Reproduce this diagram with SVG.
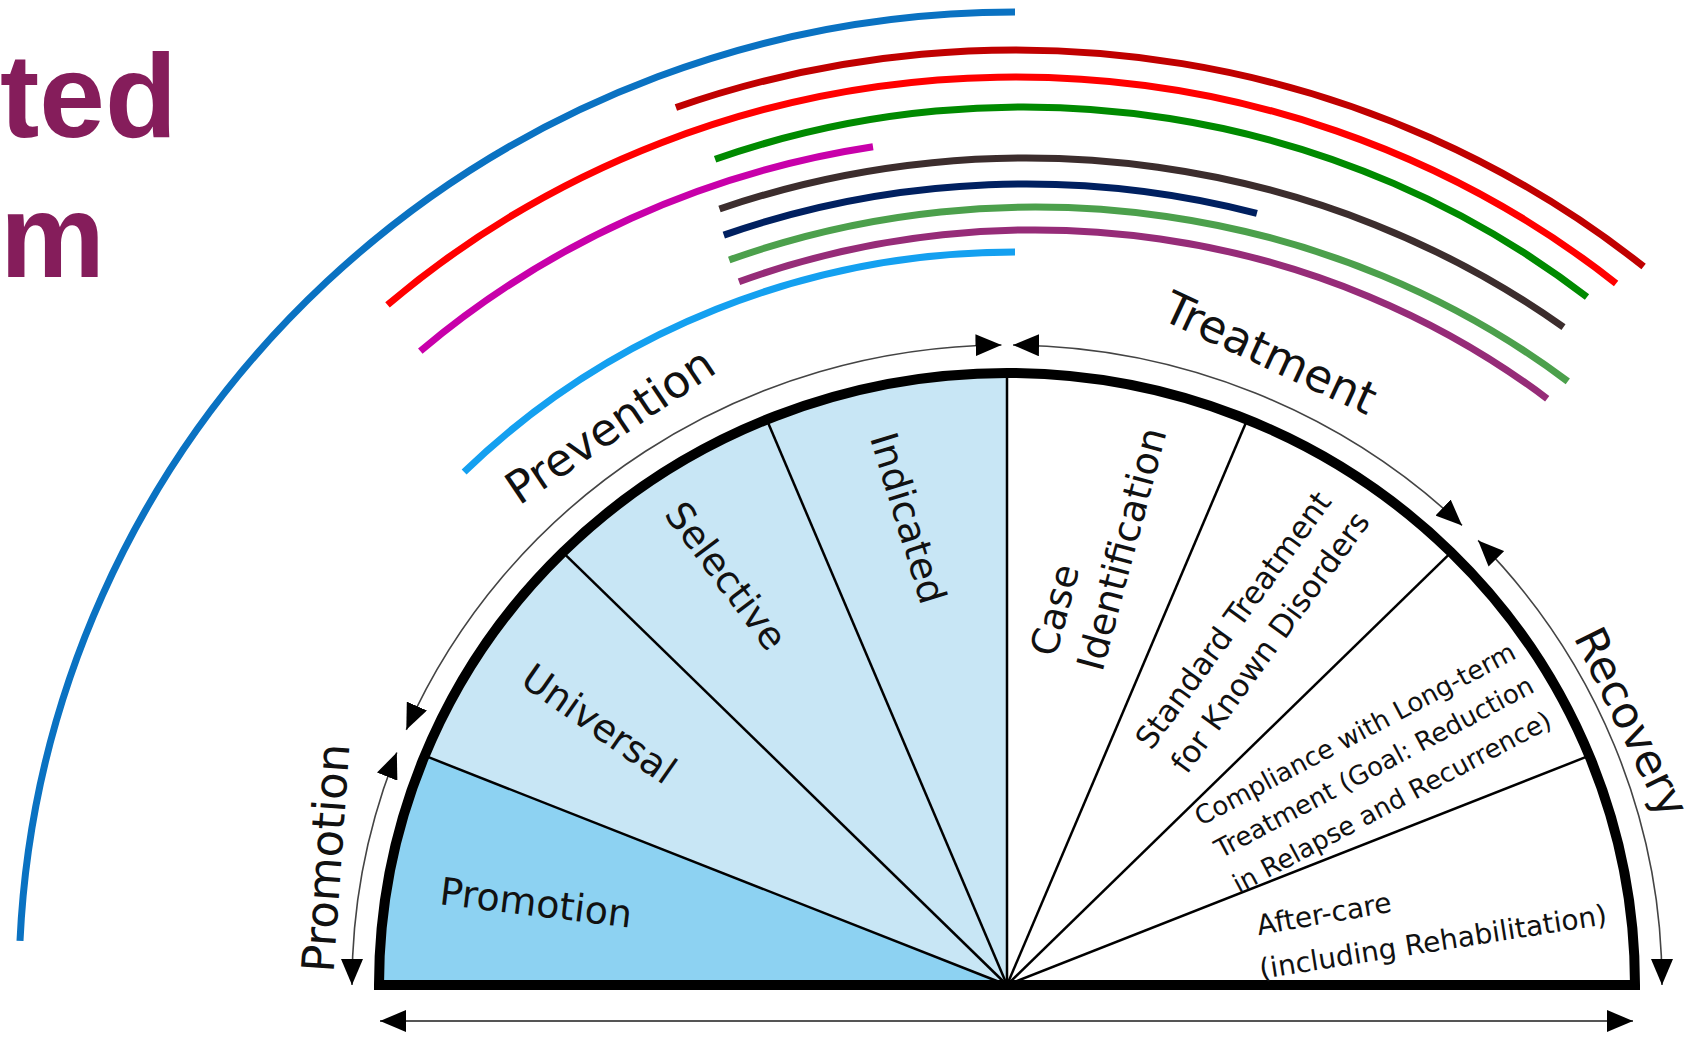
<svg xmlns="http://www.w3.org/2000/svg" width="1699" height="1037" viewBox="0 0 1699 1037">
<style>
.title{font-family:"Liberation Sans",Arial,sans-serif;font-weight:bold;font-size:118px;fill:#851d5b}
.band{fill:none;stroke-width:7;stroke-linecap:butt}
.thin{fill:none;stroke:#444;stroke-width:1.6}
.spoke{stroke:#000;stroke-width:2.5}
.lbl{font-family:"DejaVu Sans",Verdana,sans-serif;fill:#111;text-anchor:middle;dominant-baseline:central}
.outer{font-size:45px}
.inner{font-size:38px}
.mid{font-size:31px}
.small{font-size:26px}
.care{font-size:28px}
</style>
<defs>
<marker id="ah" viewBox="0 0 26 22" refX="26" refY="11" markerWidth="26" markerHeight="22" markerUnits="userSpaceOnUse" orient="auto-start-reverse">
<path d="M0,0 L26,11 L0,22 Z" fill="#000"/>
</marker>
</defs>
<rect width="1699" height="1037" fill="#fff"/>
<g id="title">
<text class="title" x="0" y="137">ted</text>
<text class="title" x="0" y="277">m</text>
</g>
<g id="bands">
<path class="band" stroke="#0a72c2" stroke-width="8" d="M20 940.9 A996 973 0 0 1 1015 12"/>
<path class="band" stroke="#c00000" d="M675.9 107.5 A982 935 0 0 1 1643.6 266.6"/>
<path class="band" stroke="#ff0000" d="M387.5 304.9 A947 908 0 0 1 1616.1 283.4"/>
<path class="band" stroke="#008a00" d="M715.1 159.3 A907 878 0 0 1 1587 297"/>
<path class="band" stroke="#c800aa" d="M420.3 351.1 A894 849 0 0 1 873 146.8"/>
<path class="band" stroke="#3c2d2d" d="M719.5 209 A887 827 0 0 1 1563.5 327.2"/>
<path class="band" stroke="#002060" d="M723.8 235.1 A860 801 0 0 1 1256.9 213.4"/>
<path class="band" stroke="#4ca04c" d="M729.2 260 A844 778 0 0 1 1567.8 381.4"/>
<path class="band" stroke="#962c78" d="M739 281.7 A813 755 0 0 1 1547.2 398.7"/>
<path class="band" stroke="#14a0f0" d="M464.1 472.1 A771 733 0 0 1 1015 252"/>
</g>
<g id="sectors">
<path id="promotion-sector" d="M1007 985 L379 985 A628 612 0 0 1 424.7 755.7 Z" fill="#8dd2f2"/>
<path id="prevention-sector" d="M1007 985 L424.7 755.7 A628 612 0 0 1 1007 373 Z" fill="#c8e6f5"/>
<line class="spoke" x1="1007" y1="985" x2="424.7" y2="755.7"/>
<line class="spoke" x1="1007" y1="985" x2="562.9" y2="552.3"/>
<line class="spoke" x1="1007" y1="985" x2="766.7" y2="419.6"/>
<line class="spoke" x1="1007" y1="985" x2="1007" y2="373"/>
<line class="spoke" x1="1007" y1="985" x2="1247.3" y2="419.6"/>
<line class="spoke" x1="1007" y1="985" x2="1451.1" y2="552.3"/>
<line class="spoke" x1="1007" y1="985" x2="1589.3" y2="755.7"/>
<path d="M379 985 A628 612 0 0 1 1635 985 Z" fill="none" stroke="#000" stroke-width="10" stroke-linejoin="miter"/>
</g>
<g id="connectors">
<path class="thin" d="M352 985 A655 640 0 0 1 396.8 752.5" marker-start="url(#ah)" marker-end="url(#ah)"/>
<path class="thin" d="M406.3 729.8 A655 640 0 0 1 1001.5 345" marker-start="url(#ah)" marker-end="url(#ah)"/>
<path class="thin" d="M1013 345 A655 640 0 0 1 1462 525.4" marker-start="url(#ah)" marker-end="url(#ah)"/>
<path class="thin" d="M1478.1 540.4 A655 640 0 0 1 1662 985" marker-start="url(#ah)" marker-end="url(#ah)"/>
<line x1="380" y1="1021" x2="1633" y2="1021" stroke="#555" stroke-width="2" marker-start="url(#ah)" marker-end="url(#ah)"/>
</g>
<g id="outer-labels">
<text class="lbl outer" transform="translate(610 426) rotate(-34)">Prevention</text>
<text class="lbl outer" transform="translate(1270 353) rotate(25)">Treatment</text>
<text class="lbl outer" transform="translate(1632 722) rotate(64)" style="font-size:44px">Recovery</text>
<text class="lbl outer" transform="translate(326 858) rotate(-86)">Promotion</text>
</g>
<g id="sector-labels">
<text class="lbl inner" transform="translate(536 903) rotate(7)">Promotion</text>
<text class="lbl inner" transform="translate(599 724) rotate(35)">Universal</text>
<text class="lbl inner" transform="translate(726 576) rotate(53)">Selective</text>
<text class="lbl inner" transform="translate(908 518) rotate(73)">Indicated</text>
<text class="lbl inner" transform="translate(1055 610) rotate(-75)">Case</text>
<text class="lbl inner" transform="translate(1122 549) rotate(-75)">Identification</text>
<text class="lbl mid" transform="translate(1233 620) rotate(-54)">Standard Treatment</text>
<text class="lbl mid" transform="translate(1270 642) rotate(-54)">for Known Disorders</text>
<text class="lbl small" transform="translate(1355 734) rotate(-28)">Compliance with Long-term</text>
<text class="lbl small" transform="translate(1374 767) rotate(-28)">Treatment (Goal: Reduction</text>
<text class="lbl small" transform="translate(1392 802) rotate(-28)">in Relapse and Recurrence)</text>
<text class="lbl care" transform="translate(1324 914) rotate(-10)">After-care</text>
<text class="lbl care" transform="translate(1433 942) rotate(-9)">(including Rehabilitation)</text>
</g>
</svg>
